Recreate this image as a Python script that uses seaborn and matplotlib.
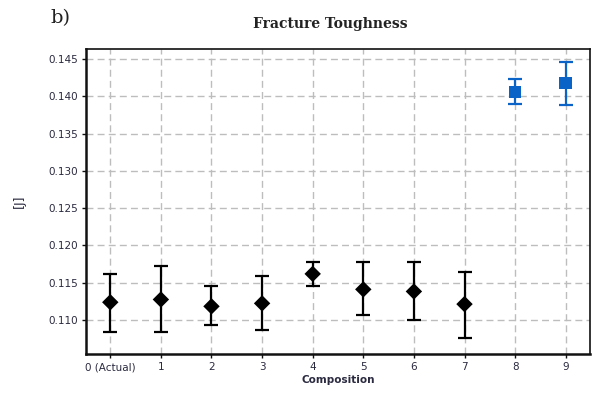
import matplotlib
matplotlib.use("Agg")
import matplotlib.pyplot as plt
import seaborn as sns
import pandas as pd
import numpy as np

# Composition labels and measured fracture toughness [J]
compositions = ["0 (Actual)", "1", "2", "3", "4", "5", "6", "7", "8", "9"]
toughness_mean = [0.11235, 0.11272, 0.1118, 0.1122, 0.11616, 0.11408, 0.1138, 0.1121, 0.14057, 0.1418]
toughness_upper = [0.11616, 0.1172, 0.1145, 0.1159, 0.11775, 0.11775, 0.11775, 0.11643, 0.14234, 0.14465]
toughness_lower = [0.10833, 0.1083, 0.1093, 0.1086, 0.11458, 0.1107, 0.1099, 0.1076, 0.13898, 0.1389]
group = ["base"] * 8 + ["new"] * 2
y_ticks = [0.110, 0.115, 0.120, 0.125, 0.130, 0.135, 0.140, 0.145]

df = pd.DataFrame({
    "pos": np.arange(len(compositions)),
    "mean": toughness_mean,
    "upper": toughness_upper,
    "lower": toughness_lower,
    "group": group,
})

sns.set_style("white")
plt.rcParams["font.family"] = ["DejaVu Sans"]

fig = plt.figure(figsize=(5.92, 3.96), dpi=100)
ax = fig.add_axes([86 / 592, 1 - 354 / 396, (590 - 86) / 592, (354 - 49) / 396])

palette = {"base": "#000000", "new": "#0a64c8"}
markers = {"base": "D", "new": "s"}
sizes = {"base": 70, "new": 80}

for g, sub in df.groupby("group"):
    yerr = np.vstack([sub["mean"] - sub["lower"], sub["upper"] - sub["mean"]])
    ax.errorbar(sub["pos"], sub["mean"], yerr=yerr, fmt="none",
                ecolor=palette[g], elinewidth=1.6, capsize=5, capthick=1.6, zorder=3)

sns.scatterplot(data=df, x="pos", y="mean", hue="group", style="group",
                size="group", sizes=sizes,
                palette=palette, markers=markers, edgecolor="none",
                legend=False, ax=ax, zorder=4)

ax.set_xlim(-0.48, 9.48)
ax.set_ylim(0.1054, 0.14636)
ax.set_xticks(df["pos"])
ax.set_xticklabels(compositions)
ax.set_yticks(y_ticks)
ax.set_yticklabels([f"{t:.3f}" for t in y_ticks])

ax.grid(True, color="#bdbdbd", linestyle=(0, (5, 3)), linewidth=1.0)
ax.set_axisbelow(True)
for side in ["left", "bottom"]:
    ax.spines[side].set_linewidth(1.8)
    ax.spines[side].set_color("#111111")
for side in ["top", "right"]:
    ax.spines[side].set_linewidth(1.2)
    ax.spines[side].set_color("#111111")

ax.tick_params(axis="both", which="major", length=3, width=1, direction="out",
               labelsize=7.5, colors="#111111", labelcolor="#2a2a40", pad=3)
ax.tick_params(axis="x", bottom=True)
ax.tick_params(axis="y", left=True)

ax.set_xlabel("Composition", fontsize=7.5, fontweight="bold", color="#2a2a40", labelpad=2)
ax.set_ylabel("[J]", fontsize=9, color="#2a2a40", labelpad=16)

fig.text(330 / 592, 1 - 24 / 396, "Fracture Toughness", ha="center", va="center",
         fontsize=10, fontweight="bold", family="DejaVu Serif", color="#222222")
fig.text(50 / 592, 1 - 18 / 396, "b)", ha="left", va="center",
         fontsize=14, family="DejaVu Serif", color="#222222")

fig.savefig("out.png", dpi=100)
